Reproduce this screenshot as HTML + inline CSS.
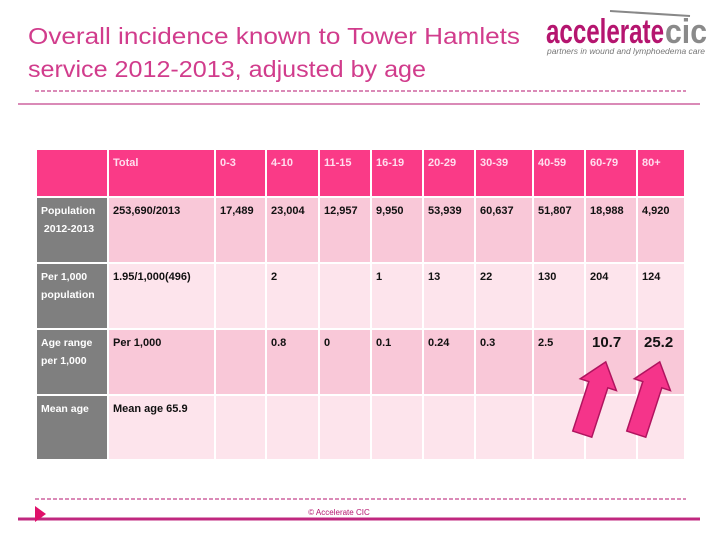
<!DOCTYPE html>
<html><head><meta charset="utf-8"><style>
body{margin:0;width:720px;height:540px;background:#fff;position:relative;overflow:hidden;font-family:"Liberation Sans",sans-serif}
.c{position:absolute;box-sizing:border-box;font-weight:bold;font-size:11px;color:#111;padding:4px 0 0 4px;line-height:18px}
.h{background:#fa3a87;color:#fde;}
.g{background:#7f7f7f;color:#fff}
.o{background:#f9c8d8}
.e{background:#fde4ec}
</style></head><body>
<svg width="720" height="540" style="position:absolute;left:0;top:0">
<text x="28" y="44" font-size="23" fill="#d13c8c" font-family="Liberation Sans, sans-serif" textLength="492" lengthAdjust="spacingAndGlyphs">Overall incidence known to  Tower Hamlets</text>
<text x="28" y="77" font-size="23" fill="#d13c8c" font-family="Liberation Sans, sans-serif" textLength="398" lengthAdjust="spacingAndGlyphs">service 2012-2013, adjusted by age</text>
<line x1="610" y1="11" x2="690" y2="16" stroke="#888" stroke-width="2"/>
<text x="546" y="43" font-size="34" font-weight="bold" fill="#b5156f" font-family="Liberation Sans, sans-serif" textLength="118" lengthAdjust="spacingAndGlyphs">accelerate</text>
<text x="665" y="43" font-size="34" font-weight="bold" fill="#8a8a8a" font-family="Liberation Sans, sans-serif" textLength="42" lengthAdjust="spacingAndGlyphs">cic</text>
<text x="547" y="54" font-size="8" font-style="italic" fill="#777" font-family="Liberation Sans, sans-serif" textLength="158" lengthAdjust="spacingAndGlyphs">partners in wound and lymphoedema care</text>
<line x1="35" y1="91" x2="686" y2="91" stroke="#b5156f" stroke-width="1" stroke-dasharray="4,2"/>
<line x1="18" y1="104" x2="700" y2="104" stroke="#b5156f" stroke-width="1"/>
<line x1="35" y1="499" x2="686" y2="499" stroke="#b5156f" stroke-width="1" stroke-dasharray="4,2"/>
<line x1="18" y1="519" x2="700" y2="519" stroke="#c0287f" stroke-width="3"/>
<polygon points="35,506 46,514 35,522" fill="#e0106a"/>
<text x="339" y="515" font-size="8" fill="#b5156f" text-anchor="middle" font-family="Liberation Sans, sans-serif">© Accelerate CIC</text>
</svg>
<div id="tbl"></div>
<svg width="720" height="540" style="position:absolute;left:0;top:0">
<polygon transform="translate(594,398) rotate(18)" points="-10,38 10,38 10,-14 19,-14 0,-38 -19,-14 -10,-14" fill="#f5348a" stroke="#b0145f" stroke-width="1.5"/>
<polygon transform="translate(648,398) rotate(18)" points="-10,38 10,38 10,-14 19,-14 0,-38 -19,-14 -10,-14" fill="#f5348a" stroke="#b0145f" stroke-width="1.5"/>
</svg>
<script>
const xs=[37,109,216,267,320,372,424,476,534,586,638,684];
const ys=[150,198,264,330,396,459];
const rows=[
["","Total","0-3","4-10","11-15","16-19","20-29","30-39","40-59","60-79","80+"],
["Population<br>&nbsp;2012-2013","253,690/2013","17,489","23,004","12,957","9,950","53,939","60,637","51,807","18,988","4,920"],
["Per 1,000<br>population","1.95/1,000(496)","","2","","1","13","22","130","204","124"],
["Age range<br>per 1,000","Per 1,000","","0.8","0","0.1","0.24","0.3","2.5","10.7","25.2"],
["Mean age","Mean age 65.9","","","","","","","","",""]];
const t=document.getElementById('tbl');
rows.forEach((r,i)=>r.forEach((v,j)=>{
 const d=document.createElement('div');
 
 
 let cls=i==0?'h':(j==0?'g':(i%2?'o':'e'));
 d.className='c '+cls;
 d.style.left=xs[j]+'px';d.style.top=ys[i]+'px';
 d.style.width=(xs[j+1]-xs[j]-(j<10?2:0))+'px';d.style.height=(ys[i+1]-ys[i]-(i<4?2:0))+'px';
 if(i==3&&j>=9){d.style.fontSize='15px';d.style.paddingLeft='6px';}
 if(j==0&&i>0)d.style.fontSize='10.5px';
 d.innerHTML=v;t.appendChild(d);
}));
</script>
</body></html>
